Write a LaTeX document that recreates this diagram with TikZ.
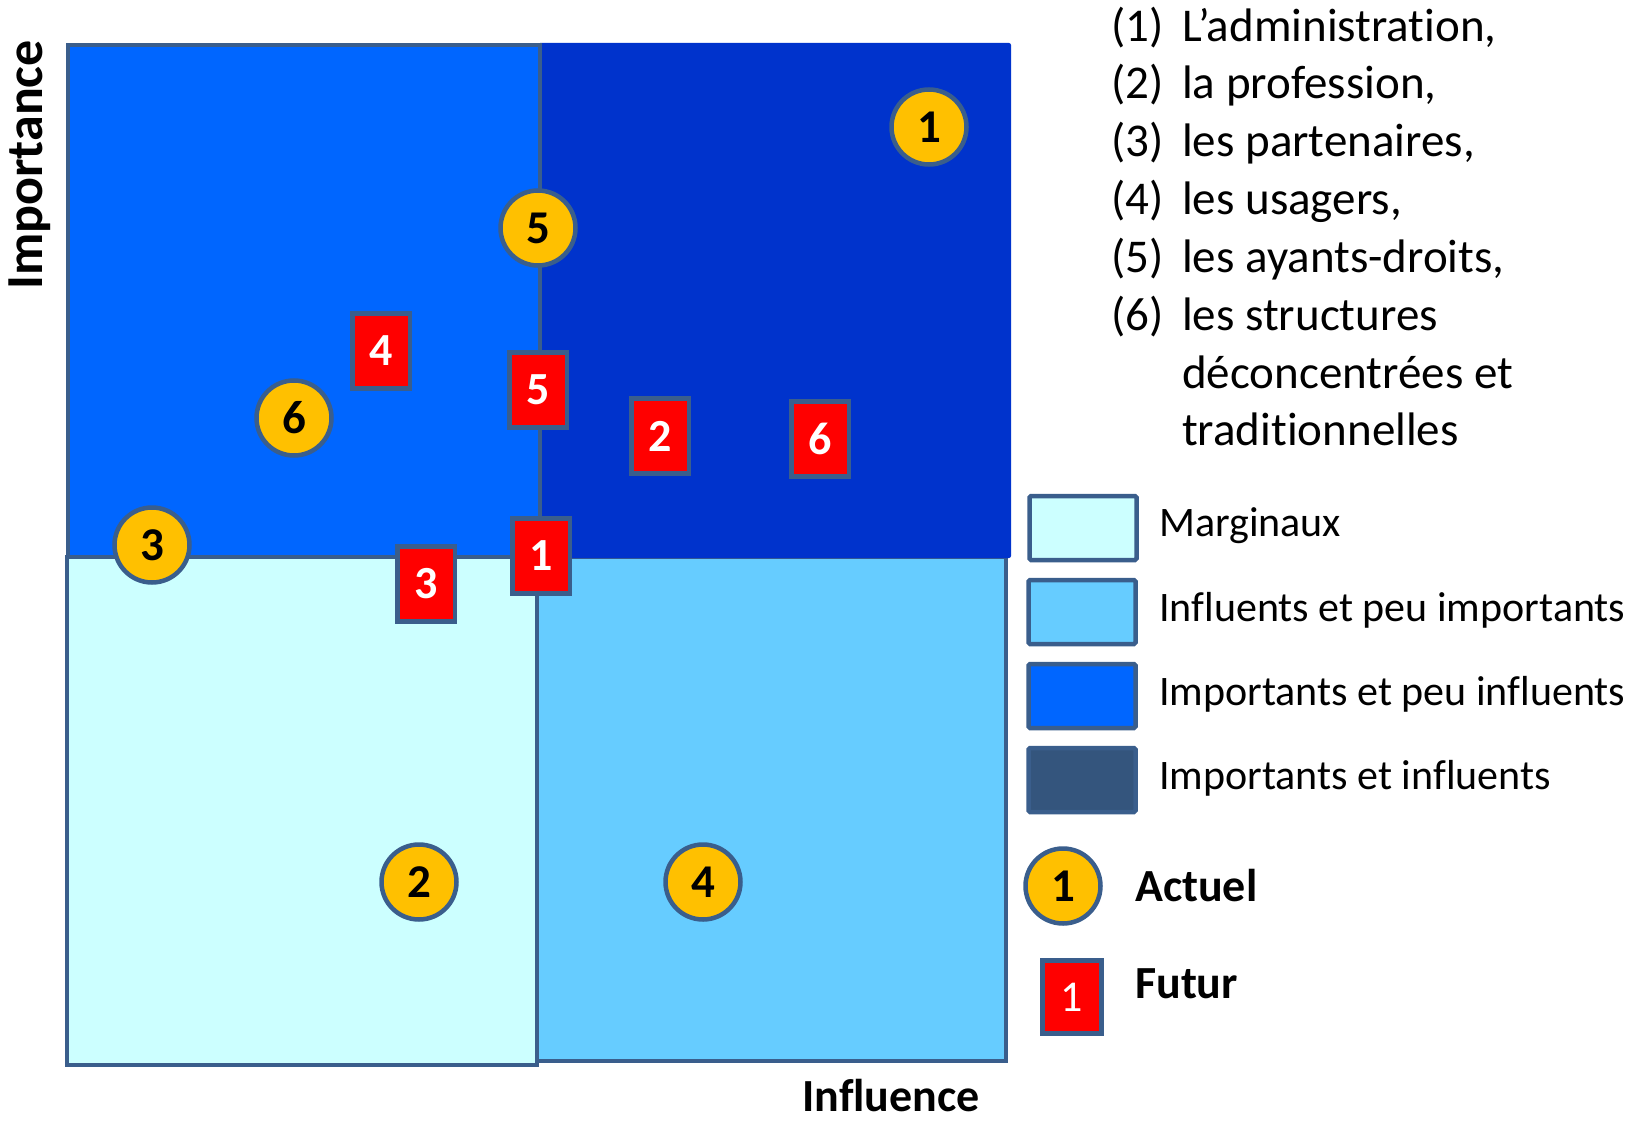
\documentclass[tikz,border=0pt]{standalone}
\usepackage{fontspec}
\setmainfont[Ligatures={NoCommon,NoContextual},RawFeature={-liga;-calt}]{Carlito}
\definecolor{bordc}{HTML}{3A5E8C}
\definecolor{qtl}{HTML}{0066FF}
\definecolor{qtr}{HTML}{0033CC}
\definecolor{qbl}{HTML}{CCFFFF}
\definecolor{qbr}{HTML}{66CCFF}
\definecolor{qdark}{HTML}{34557D}
\definecolor{gold}{HTML}{FFC000}
\definecolor{futred}{HTML}{FF0000}
\tikzset{
  bord/.style={draw=bordc, line width=4.5pt},
  actuel/.style={circle, bord, fill=gold, minimum size=75pt, inner sep=0pt,
    font=\fontsize{47}{47}\selectfont\bfseries},
  futur/.style={rectangle, bord, fill=futred, minimum width=57.5pt, minimum height=75pt,
    inner sep=0pt, text=white, font=\fontsize{46}{46}\selectfont\bfseries},
  legbox/.style={rectangle, bord, minimum width=107pt, minimum height=64pt, inner sep=0pt, rounded corners=1.5pt},
  legtxt/.style={anchor=west, inner sep=0pt, font=\fontsize{42}{50}\selectfont},
  listtxt/.style={anchor=base west, inner sep=0pt, font=\fontsize{47}{57}\selectfont},
  legbold/.style={anchor=west, inner sep=0pt, font=\fontsize{46}{50}\selectfont\bfseries},
}
\begin{document}
\begin{tikzpicture}[x=1pt,y=-1pt]
\useasboundingbox (0,0) rectangle (1633,1121);
% quadrants
\filldraw[bord, fill=qbl] (67,557) rectangle (537,1065);
\filldraw[bord, fill=qbr] (537,557) rectangle (1006,1061);
\fill[qtr, rounded corners=2pt] (538,43) rectangle (1011,558);
\filldraw[bord, fill=qtl] (68,45) rectangle (540,557);
\draw[bord] (540,45) -- (540,557);
% axis labels
\node[rotate=90, inner sep=0pt, font=\fontsize{52}{52}\selectfont\bfseries] (imp) at (30,165) {Importance};
\node[inner sep=0pt, font=\fontsize{46}{46}\selectfont\bfseries] (inf) at (891,1096) {Influence};
% current positions
\node[actuel] (c1) at (929,127) {1};
\node[actuel] (c5) at (538,228) {5};
\node[actuel] (c6) at (294,418) {6};
\node[actuel] (c3) at (152,545) {3};
\node[actuel] (c2) at (419,882) {2};
\node[actuel] (c4) at (703,882) {4};
% future positions
\node[futur] (s4) at (381,351) {4};
\node[futur] (s5) at (538,390) {5};
\node[futur] (s2) at (660,436) {2};
\node[futur] (s6) at (820,439) {6};
\node[futur] (s3) at (426,584) {3};
\node[futur] (s1) at (541,556) {1};
% list
\node[listtxt] (n1) at (1111,42) {(1)};
\node[listtxt] (t1) at (1182,42) {L’administration,};
\node[listtxt] (n2) at (1111,99) {(2)};
\node[listtxt] (t2) at (1182,99) {la profession,};
\node[listtxt] (n3) at (1111,157) {(3)};
\node[listtxt] (t3) at (1182,157) {les partenaires,};
\node[listtxt] (n4) at (1111,214) {(4)};
\node[listtxt] (t4) at (1182,214) {les usagers,};
\node[listtxt] (n5) at (1111,272) {(5)};
\node[listtxt] (t5) at (1182,272) {les ayants-droits,};
\node[listtxt] (n6) at (1111,330) {(6)};
\node[listtxt] (t6) at (1182,330) {les structures};
\node[listtxt] (t7) at (1182,388) {déconcentrées et};
\node[listtxt] (t8) at (1182,445) {traditionnelles};
% legend
\node[legbox, fill=qbl] (l1) at (1083,528) {};
\node[legtxt] (lt1) at (1159,526) {Marginaux};
\node[legbox, fill=qbr] (l2) at (1082,612) {};
\node[legtxt] (lt2) at (1159,610) {Influents et peu importants};
\node[legbox, fill=qtl] (l3) at (1082,696) {};
\node[legtxt] (lt3) at (1159,694) {Importants et peu influents};
\node[legbox, fill=qdark] (l4) at (1082,780) {};
\node[legtxt] (lt4) at (1159,778) {Importants et influents};
\node[actuel] (la) at (1063,886) {1};
\node[legbold] (lta) at (1135,886) {Actuel};
\node[futur, minimum width=59pt, minimum height=73pt, font=\fontsize{44}{44}\selectfont] (lf) at (1072,997) {1};
\node[legbold] (ltf) at (1135,984) {Futur};
\end{tikzpicture}
\end{document}
